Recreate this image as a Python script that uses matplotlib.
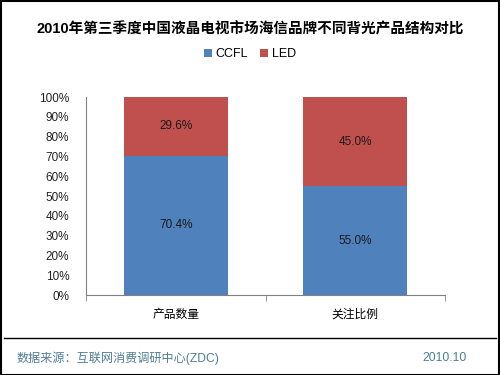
import matplotlib
matplotlib.use('Agg')
import matplotlib.pyplot as plt
from matplotlib.patches import Rectangle
from matplotlib.lines import Line2D

# latin glyphs from Liberation Sans, chinese falls through to Noto CJK
plt.rcParams['font.family'] = ['Liberation Sans', 'Noto Sans CJK SC', 'DejaVu Sans']

categories = ['产品数量', '关注比例']
ccfl = [70.4, 55.0]
led = [29.6, 45.0]
series_names = ['CCFL', 'LED']
colors = ['#4F81BD', '#C0504D']

fig = plt.figure(figsize=(5, 3.75), dpi=100)
ax = fig.add_axes([0.172, 0.2133, 0.718, 0.528])

x = [0, 1]
b1 = ax.bar(x, ccfl, width=0.58, color=colors[0], label=series_names[0])
b2 = ax.bar(x, led, width=0.58, bottom=ccfl, color=colors[1], label=series_names[1])

for i in x:
    ax.text(i, ccfl[i] / 2, '%.1f%%' % ccfl[i], ha='center', va='center', fontsize=8.5, color='#1a1a1a')
    ax.text(i, ccfl[i] + led[i] / 2, '%.1f%%' % led[i], ha='center', va='center', fontsize=8.5, color='#1a1a1a')

ax.set_xlim(-0.5, 1.5)
ax.set_ylim(0, 100)
ax.set_yticks(range(0, 101, 10))
ax.set_yticklabels(['%d%%' % v for v in range(0, 101, 10)], fontsize=8.5, color='#222222')
ax.tick_params(axis='y', length=0, pad=12)
ax.set_xticks(x)
ax.set_xticklabels(categories, fontsize=8.5)
ax.set_xticks([-0.5, 0.5, 1.5], minor=True)
ax.tick_params(axis='x', which='major', length=0, pad=10)
ax.tick_params(axis='x', which='minor', length=4, color='#808080', direction='out')
for s in ['top', 'right']:
    ax.spines[s].set_visible(False)
for s in ['left', 'bottom']:
    ax.spines[s].set_color('#808080')

fig.text(0.5, 0.922, '2010年第三季度中国液晶电视市场海信品牌不同背光产品结构对比',
         ha='center', va='center', fontsize=10.5, fontweight='bold')
fig.legend(handles=[b1, b2], labels=series_names, loc='center', bbox_to_anchor=(0.5, 0.856),
           ncol=2, frameon=False, fontsize=9, handlelength=0.6, handleheight=0.6,
           handletextpad=0.3, columnspacing=1.0)

fig.add_artist(Line2D([0.008, 0.992], [1 - 338 / 375, 1 - 338 / 375], color='black', lw=1.0))
fig.text(0.034, 1 - 358 / 375, '数据来源：互联网消费调研中心(ZDC)', ha='left', va='center',
         fontsize=8.7, color='#4F7F94')
fig.text(0.934, 1 - 358 / 375, '2010.10', ha='right', va='center', fontsize=8.7, color='#4F7F94')
fig.add_artist(Rectangle((0.001, 0.001), 0.997, 0.996, transform=fig.transFigure,
                         fill=False, edgecolor='black', lw=1.5))

fig.savefig('out.png', dpi=100)
